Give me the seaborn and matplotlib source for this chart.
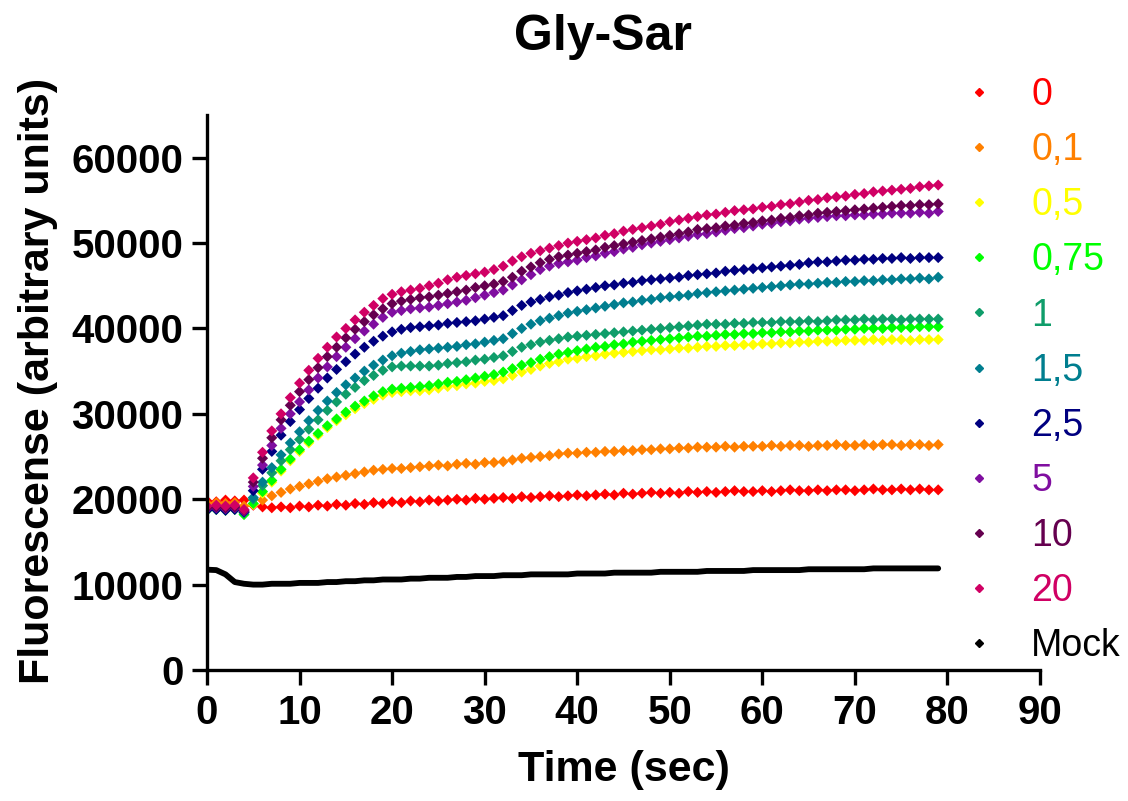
"""
Gly-Sar uptake: fluorescence vs time for several substrate concentrations
"""

import numpy as np
import pandas as pd
import matplotlib
matplotlib.use("Agg")
import matplotlib.pyplot as plt
from matplotlib.lines import Line2D
import seaborn as sns

# one reading per second, 0..79 s
time_sec = np.arange(0, 80)

conc_labels = ["0", "0,1", "0,5", "0,75", "1", "1,5", "2,5", "5", "10", "20", "Mock"]
conc_colors = ["#FF0000", "#FF8000", "#FFFF00", "#00FF00", "#0F9D6A", "#007E8F",
               "#000080", "#800EA0", "#65004F", "#D00064", "#000000"]

# fluorescence, thousands of arbitrary units
f_0 = [19.8, 19.7, 19.9, 19.8, 19.9, 19.3, 19.1, 19.0, 19.1, 19.0,
       19.2, 19.1, 19.3, 19.2, 19.4, 19.3, 19.5, 19.4, 19.6, 19.5,
       19.7, 19.6, 19.8, 19.7, 19.9, 19.8, 19.9, 20.0, 19.9, 20.1,
       20.0, 20.1, 20.2, 20.1, 20.3, 20.2, 20.3, 20.4, 20.3, 20.4,
       20.5, 20.4, 20.5, 20.6, 20.5, 20.7, 20.6, 20.7, 20.8, 20.7,
       20.8, 20.7, 20.9, 20.8, 20.9, 20.8, 20.9, 21.0, 20.9, 20.9,
       21.0, 20.9, 21.0, 21.1, 21.0, 21.0, 21.1, 21.0, 21.1, 21.1,
       21.0, 21.1, 21.2, 21.1, 21.1, 21.2, 21.1, 21.2, 21.1, 21.1]
f_01 = [19.5, 19.6, 19.5, 19.6, 19.2, 19.4, 19.9, 20.4, 20.8, 21.2,
        21.5, 21.8, 22.1, 22.4, 22.6, 22.8, 23.0, 23.2, 23.4, 23.5,
        23.6, 23.6, 23.7, 23.8, 23.9, 24.0, 23.9, 24.1, 24.2, 24.1,
        24.3, 24.3, 24.4, 24.6, 24.8, 24.9, 25.0, 25.1, 25.3, 25.4,
        25.4, 25.5, 25.5, 25.6, 25.6, 25.7, 25.7, 25.8, 25.8, 25.9,
        25.9, 26.0, 26.0, 26.1, 26.1, 26.1, 26.2, 26.1, 26.2, 26.2,
        26.2, 26.3, 26.2, 26.3, 26.3, 26.2, 26.3, 26.3, 26.4, 26.3,
        26.3, 26.4, 26.3, 26.4, 26.4, 26.3, 26.4, 26.4, 26.3, 26.4]
f_05 = [18.9, 19.0, 18.9, 19.0, 18.5, 19.4, 20.7, 22.0, 23.3, 24.5,
        25.6, 26.6, 27.5, 28.4, 29.2, 29.9, 30.6, 31.2, 31.7, 32.2,
        32.5, 32.6, 32.7, 32.7, 32.8, 33.0, 33.2, 33.3, 33.5, 33.6,
        33.8, 33.9, 34.1, 34.5, 34.9, 35.2, 35.6, 35.9, 36.1, 36.4,
        36.5, 36.7, 36.8, 37.0, 37.1, 37.2, 37.3, 37.4, 37.5, 37.5,
        37.6, 37.7, 37.7, 37.8, 37.9, 37.9, 38.0, 38.0, 38.1, 38.1,
        38.2, 38.2, 38.3, 38.3, 38.4, 38.4, 38.5, 38.5, 38.5, 38.6,
        38.6, 38.6, 38.7, 38.6, 38.7, 38.7, 38.6, 38.7, 38.7, 38.7]
f_075 = [18.7, 18.8, 18.7, 18.8, 18.2, 19.5, 20.9, 22.2, 23.5, 24.7,
         25.8, 26.8, 27.7, 28.6, 29.4, 30.2, 30.9, 31.5, 32.1, 32.6,
         32.9, 33.0, 33.1, 33.2, 33.3, 33.5, 33.7, 33.8, 34.0, 34.2,
         34.4, 34.6, 34.9, 35.3, 35.7, 36.0, 36.4, 36.7, 37.0, 37.2,
         37.4, 37.6, 37.8, 37.9, 38.1, 38.2, 38.4, 38.5, 38.6, 38.7,
         38.8, 38.9, 39.0, 39.1, 39.1, 39.2, 39.3, 39.3, 39.4, 39.4,
         39.5, 39.5, 39.6, 39.6, 39.7, 39.7, 39.8, 39.8, 39.8, 39.9,
         39.9, 40.0, 40.0, 40.0, 40.1, 40.1, 40.1, 40.2, 40.2, 40.2]
f_1 = [18.8, 18.9, 18.8, 18.9, 18.4, 20.0, 21.6, 23.1, 24.5, 25.8,
       27.0, 28.2, 29.3, 30.4, 31.4, 32.3, 33.1, 33.9, 34.5, 35.1,
       35.5, 35.6, 35.6, 35.6, 35.6, 35.7, 35.9, 36.0, 36.1, 36.3,
       36.4, 36.6, 36.8, 37.3, 37.8, 38.1, 38.4, 38.6, 38.8, 39.0,
       39.1, 39.2, 39.3, 39.4, 39.5, 39.6, 39.7, 39.8, 39.9, 40.0,
       40.1, 40.2, 40.3, 40.4, 40.5, 40.5, 40.5, 40.6, 40.6, 40.7,
       40.7, 40.7, 40.8, 40.8, 40.8, 40.9, 40.8, 40.9, 41.0, 41.0,
       41.0, 41.1, 41.0, 41.1, 41.1, 41.0, 41.1, 41.1, 41.1, 41.1]
f_15 = [18.8, 18.9, 18.8, 18.9, 18.5, 20.2, 22.0, 23.7, 25.2, 26.6,
        27.9, 29.2, 30.4, 31.5, 32.5, 33.4, 34.2, 35.0, 35.7, 36.3,
        36.8, 37.1, 37.3, 37.5, 37.6, 37.7, 37.8, 37.9, 38.1, 38.2,
        38.4, 38.6, 38.8, 39.4, 40.0, 40.5, 40.9, 41.2, 41.5, 41.8,
        42.0, 42.2, 42.4, 42.6, 42.8, 43.0, 43.1, 43.3, 43.4, 43.6,
        43.7, 43.8, 43.9, 44.1, 44.2, 44.3, 44.4, 44.5, 44.6, 44.7,
        44.8, 44.9, 45.0, 45.1, 45.2, 45.2, 45.3, 45.4, 45.4, 45.5,
        45.5, 45.6, 45.6, 45.7, 45.7, 45.8, 45.8, 45.9, 45.8, 46.0]
f_25 = [18.7, 18.8, 18.7, 18.8, 18.5, 21.0, 23.5, 25.6, 27.5, 29.1,
        30.5, 31.8, 33.0, 34.2, 35.2, 36.1, 37.0, 37.8, 38.5, 39.1,
        39.6, 39.9, 40.1, 40.2, 40.3, 40.4, 40.6, 40.7, 40.8, 40.9,
        41.1, 41.3, 41.5, 42.1, 42.7, 43.1, 43.4, 43.7, 43.9, 44.2,
        44.4, 44.6, 44.8, 45.0, 45.1, 45.3, 45.4, 45.6, 45.7, 45.8,
        45.9, 46.0, 46.2, 46.3, 46.4, 46.5, 46.7, 46.8, 46.9, 47.0,
        47.1, 47.2, 47.3, 47.4, 47.5, 47.7, 47.8, 47.8, 47.9, 48.0,
        48.0, 48.1, 48.1, 48.2, 48.2, 48.3, 48.2, 48.3, 48.3, 48.3]
f_5 = [18.9, 19.0, 18.9, 19.0, 18.6, 21.5, 24.0, 26.3, 28.3, 30.0,
       31.4, 32.8, 34.2, 35.5, 36.7, 37.8, 38.8, 39.7, 40.5, 41.3,
       41.9, 42.1, 42.3, 42.4, 42.5, 42.7, 42.9, 43.1, 43.3, 43.6,
       43.9, 44.2, 44.5, 45.1, 45.7, 46.3, 46.9, 47.3, 47.6, 47.8,
       48.0, 48.3, 48.5, 48.8, 49.0, 49.3, 49.5, 49.8, 50.0, 50.2,
       50.4, 50.6, 50.8, 51.0, 51.1, 51.3, 51.5, 51.7, 51.8, 52.0,
       52.2, 52.3, 52.5, 52.6, 52.8, 52.9, 53.0, 53.1, 53.2, 53.2,
       53.3, 53.3, 53.4, 53.4, 53.5, 53.5, 53.5, 53.6, 53.5, 53.7]
f_10 = [19.0, 19.1, 19.0, 19.1, 18.7, 22.0, 24.8, 27.2, 29.3, 31.0,
        32.6, 34.0, 35.4, 36.7, 37.8, 38.9, 39.9, 40.8, 41.6, 42.3,
        42.9, 43.2, 43.4, 43.6, 43.7, 43.9, 44.1, 44.3, 44.5, 44.8,
        45.0, 45.2, 45.5, 46.0, 46.7, 47.2, 47.7, 48.1, 48.4, 48.6,
        48.8, 49.0, 49.2, 49.5, 49.7, 49.9, 50.1, 50.3, 50.5, 50.7,
        50.9, 51.1, 51.3, 51.6, 51.7, 51.8, 52.0, 52.1, 52.3, 52.4,
        52.6, 52.7, 52.9, 53.0, 53.2, 53.3, 53.5, 53.6, 53.7, 53.8,
        53.9, 54.0, 54.1, 54.2, 54.3, 54.4, 54.4, 54.5, 54.5, 54.6]
f_20 = [19.2, 19.3, 19.2, 19.3, 18.8, 22.5, 25.5, 28.0, 30.0, 31.9,
        33.6, 35.1, 36.5, 37.8, 39.0, 40.0, 41.0, 41.9, 42.7, 43.5,
        44.0, 44.3, 44.5, 44.7, 45.0, 45.3, 45.7, 46.0, 46.2, 46.4,
        46.6, 46.9, 47.3, 47.9, 48.4, 48.8, 49.1, 49.4, 49.7, 50.0,
        50.2, 50.4, 50.6, 50.9, 51.1, 51.4, 51.6, 51.8, 52.0, 52.2,
        52.5, 52.7, 52.9, 53.1, 53.3, 53.4, 53.6, 53.8, 53.9, 54.0,
        54.2, 54.3, 54.5, 54.6, 54.8, 55.0, 55.1, 55.3, 55.4, 55.5,
        55.7, 55.8, 56.0, 56.1, 56.2, 56.3, 56.4, 56.6, 56.7, 56.8]
f_mock = [11.75, 11.7, 11.2, 10.3, 10.1, 10.0, 10.0, 10.1, 10.1, 10.1,
          10.2, 10.2, 10.2, 10.3, 10.3, 10.4, 10.4, 10.5, 10.5, 10.6,
          10.6, 10.6, 10.7, 10.7, 10.8, 10.8, 10.8, 10.9, 10.9, 11.0,
          11.0, 11.0, 11.1, 11.1, 11.1, 11.2, 11.2, 11.2, 11.2, 11.2,
          11.3, 11.3, 11.3, 11.3, 11.4, 11.4, 11.4, 11.4, 11.4, 11.5,
          11.5, 11.5, 11.5, 11.5, 11.6, 11.6, 11.6, 11.6, 11.6, 11.7,
          11.7, 11.7, 11.7, 11.7, 11.7, 11.8, 11.8, 11.8, 11.8, 11.8,
          11.8, 11.8, 11.9, 11.9, 11.9, 11.9, 11.9, 11.9, 11.9, 11.9]

series = [f_0, f_01, f_05, f_075, f_1, f_15, f_25, f_5, f_10, f_20, f_mock]

# long format table
rows = []
for label, vals in zip(conc_labels, series):
    for t, v in zip(time_sec, vals):
        rows.append({"time": t, "fluor": v * 1000, "conc": label})
df = pd.DataFrame(rows)

sns.set_style("ticks")
plt.rcParams["font.family"] = ["Liberation Sans", "DejaVu Sans"]
for key in ["text.color", "axes.labelcolor", "xtick.color", "ytick.color",
            "axes.edgecolor"]:
    plt.rcParams[key] = "black"

fig = plt.figure(figsize=(11.28, 8.01), dpi=100)
ax = fig.add_axes([207 / 1128, 1 - 670 / 801, 833 / 1128, 555 / 801])

treated = df[df["conc"] != "Mock"]
sns.scatterplot(data=treated, x="time", y="fluor", hue="conc",
                hue_order=conc_labels[:-1], palette=conc_colors[:-1],
                marker="D", s=32, linewidth=0, legend=False, ax=ax)
sns.lineplot(data=df[df["conc"] == "Mock"], x="time", y="fluor",
             color="black", linewidth=4.2, ax=ax)

ax.set_xlim(0, 90)
ax.set_ylim(0, 65000)
ax.set_xticks(range(0, 91, 10))
ax.set_yticks(range(0, 60001, 10000))
sns.despine(ax=ax)
for side in ["left", "bottom"]:
    ax.spines[side].set_linewidth(2.4)
ax.tick_params(length=11, width=2.4, labelsize=29, pad=6, color="black")
for lab in ax.get_xticklabels() + ax.get_yticklabels():
    lab.set_fontweight("bold")

ax.set_xlabel("Time (sec)", fontsize=31, fontweight="bold")
ax.set_ylabel("Fluorescense (arbitrary units)", fontsize=31, fontweight="bold")
ax.xaxis.set_label_coords(0.5, -0.145)
ax.yaxis.set_label_coords(-0.179, 0.52)

fig.text(603 / 1128, 1 - 50 / 801, "Gly-Sar", ha="center", va="baseline",
         fontsize=36, fontweight="bold")

# legend with coloured labels
handles = [Line2D([], [], linestyle="none", marker="D", markersize=4,
                  color=c) for c in conc_colors]
leg = ax.legend(handles, conc_labels, loc="upper left",
                bbox_to_anchor=(960 / 1128, 1 - 77 / 801),
                bbox_transform=fig.transFigure, frameon=False, fontsize=27,
                handlelength=1.0, handletextpad=0.9, labelspacing=0.51,
                borderpad=0, borderaxespad=0)
for text, c in zip(leg.get_texts(), conc_colors):
    text.set_color(c)

fig.savefig("out.png", dpi=100)
